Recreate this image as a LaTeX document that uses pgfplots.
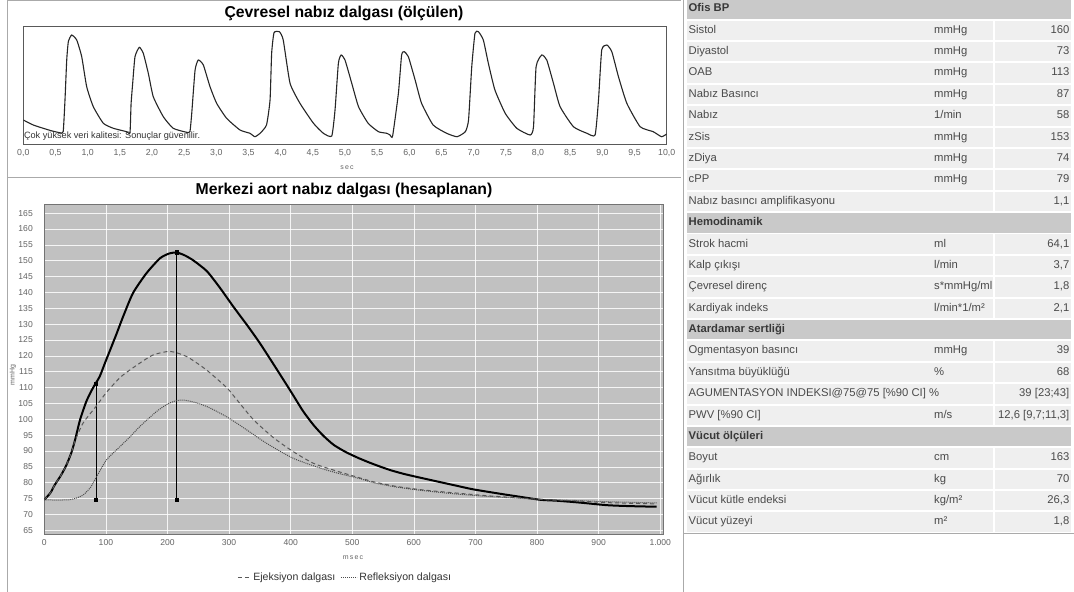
\documentclass[border=0pt]{standalone}
\usepackage{pgfplots}
\pgfplotsset{compat=1.18}
\usepackage{fontspec}
\setmainfont{Liberation Sans}
\definecolor{plotbg}{RGB}{193,193,193}
\definecolor{rowgray}{RGB}{239,239,239}
\definecolor{headgray}{RGB}{201,201,201}
\definecolor{tabtext}{RGB}{74,74,74}
\definecolor{framegray}{RGB}{170,170,170}
\definecolor{ticktext}{RGB}{100,100,100}

\tikzset{tabtxt/.style={font=\fontsize{11.3}{13}\selectfont, text=tabtext, inner sep=0pt, text height=8bp, text depth=2.3bp},
         headtxt/.style={font=\bfseries\fontsize{11.3}{13}\selectfont, text=black!78, inner sep=0pt, text height=8bp, text depth=2.3bp}}

\newcommand\trow[4]{%
  \pgfmathsetmacro\yc{-(9+21.38*#1)}%
  \begin{scope}[yshift=\yc bp]
    \fill[rowgray] (687bp,-9.7bp) rectangle (1071bp,9.7bp);
    \fill[white] (992.5bp,-9.7bp) rectangle (994.5bp,9.7bp);
    \node[anchor=west,tabtxt] at (688.5bp,0) {#2};
    \node[anchor=west,tabtxt] at (934bp,0) {#3};
    \node[anchor=east,tabtxt] at (1069.5bp,0) {#4};
  \end{scope}}
\newcommand\thead[2]{%
  \pgfmathsetmacro\yc{-(9+21.38*#1)}%
  \begin{scope}[yshift=\yc bp]
    \fill[headgray] (687bp,-9.7bp) rectangle (1071bp,9.7bp);
    \node[anchor=west,headtxt] at (688.5bp,0) {#2};
  \end{scope}}

\begin{document}
\begin{tikzpicture}
\path[use as bounding box] (0,0) rectangle (1074bp,-592bp);
\fill[white] (0,0) rectangle (1074bp,-592bp);

% frames
\draw[framegray, line width=0.8bp] (7bp,-0.6bp) -- (681bp,-0.6bp);
\draw[framegray, line width=0.8bp] (7bp,-0.6bp) -- (7bp,-592bp);
\draw[framegray, line width=1bp] (7bp,-177bp) -- (681bp,-177bp);
\draw[framegray, line width=1bp] (683.3bp,0) -- (683.3bp,-592bp);
\draw[framegray, line width=1bp] (683.3bp,-533.3bp) -- (1074bp,-533.3bp);

% titles
\node[font=\bfseries\fontsize{15.8}{18}\selectfont, text=black] at (344bp,-13bp) {Çevresel nabız dalgası (ölçülen)};
\node[font=\bfseries\fontsize{15.8}{18}\selectfont, text=black] at (344bp,-190bp) {Merkezi aort nabız dalgası (hesaplanan)};

% top axis
\begin{axis}[at={(23.3bp,-144bp)}, anchor=south west, scale only axis,
  width=643.4bp, height=117.3bp,
  xmin=0, xmax=10, ymin=0, ymax=117.3,
  xtick={0,0.5,...,10}, ytick=\empty,
  axis line style={draw=black!65, line width=0.7bp},
  major tick length=0pt,
  xticklabel style={font=\fontsize{8.8}{10}\selectfont, text=ticktext, yshift=-2bp,
     /pgf/number format/.cd, fixed, fixed zerofill, precision=1, use comma, assume math mode=true},
  clip=true]
\addplot[black!85, line width=1.1bp, smooth, tension=0.3] coordinates {
(0,24) (0.155,19) (0.31,15.7) (0.45,13) (0.57,11.3) (0.62,12.3) (0.648,44) (0.675,84) (0.70,102.3) (0.752,109) (0.83,104) (0.908,87.3) (0.985,57.3) (1.088,37.3) (1.244,20.7) (1.40,15.7) (1.607,12.3) (1.658,11.3)
(1.675,40) (1.70,60.7) (1.736,87.3) (1.803,96.7) (1.865,90.7) (1.943,70.7) (2.02,47.3) (2.176,27.3) (2.33,15.7) (2.54,11.7) (2.59,12.5)
(2.618,30.7) (2.67,74) (2.72,84) (2.798,79) (2.902,57.3) (3.005,40.7) (3.16,25.7) (3.368,14) (3.523,10.7) (3.60,7.3) (3.68,10.7) (3.78,19)
(3.835,44) (3.86,90.7) (3.897,111.3) (3.98,112.3) (4.04,104) (4.146,60.7) (4.30,40.7) (4.51,20.7) (4.664,10.7) (4.794,8)
(4.845,34) (4.897,80.7) (4.94,89) (5.0,84) (5.105,60.7) (5.21,37.3) (5.36,20.7) (5.52,12.3) (5.65,10.7) (5.70,9) (5.74,8)
(5.83,50.7) (5.88,89) (5.92,92.3) (5.985,87.3) (6.09,64) (6.19,40.7) (6.37,19) (6.58,10.7) (6.74,7.3) (6.87,12.3) (6.92,24)
(6.97,77.3) (7.02,110.7) (7.073,112.3) (7.15,104) (7.228,80.7) (7.33,54) (7.49,30.7) (7.67,15.7) (7.877,9)
(7.93,17.3) (7.97,77.3) (8.058,89) (8.136,84) (8.24,60.7) (8.343,37.3) (8.55,17.3) (8.76,10.7) (8.887,9)
(8.94,44) (8.99,94) (9.07,99) (9.147,92.3) (9.25,67.3) (9.38,40.7) (9.587,17.3) (9.79,12.3) (9.92,7.3) (10,10)};
\end{axis}
\node[anchor=west, font=\fontsize{9.2}{11}\selectfont, text=black!80, inner sep=0pt] at (23.8bp,-136bp) {Çok yüksek veri kalitesi: Sonuçlar güvenilir.};
\node[font=\fontsize{7}{8}\selectfont, text=ticktext] at (347bp,-168bp) {s\,e\,c};

% bottom axis
\begin{axis}[at={(44.3bp,-534bp)}, anchor=south west, scale only axis,
  width=619bp, height=330bp,
  xmin=0, xmax=1005, ymin=63.8, ymax=167.9,
  xtick={0,100,...,1000}, ytick={65,70,...,165},
  axis background/.style={fill=plotbg},
  grid=major, grid style={white, line width=0.6bp, opacity=0.85},
  axis line style={draw=black!55, line width=0.7bp},
  major tick length=0pt,
  tick label style={font=\fontsize{8.6}{10}\selectfont, text=ticktext},
  xticklabel style={yshift=-2bp, /pgf/number format/.cd, use comma, 1000 sep={.}, assume math mode=true},
  yticklabel style={xshift=-8bp, /pgf/number format/assume math mode=true},
  legend style={at={(0.486,-0.133)}, anchor=center, draw=none, fill=none,
     font=\fontsize{10.6}{12}\selectfont, text=black!80, legend columns=-1,
     /tikz/every even column/.append style={column sep=3bp}},
  legend cell align=left]
% solid central aortic wave
\addplot[black, line width=2bp, smooth, tension=0.4, forget plot] coordinates {
(0,74.6) (10,76.8) (17,79.3) (27,82.3) (36,85.6) (44,89.5) (50,93.5) (58,99.8) (68,105.5) (76,108.8) (83,111.2) (90,113.5) (100,118.5) (107,121.9) (117,126.8) (128,132.4) (144,139.8) (166,146.1) (188,150.8) (203,152.3) (215,152.6) (228,151.7) (242,150.1) (264,146.7) (285,141.5) (307,135.5) (330,129.5) (350,124) (372,117.4) (393,111) (404,107.6) (420,102.6) (437,98.2) (453,94.8) (470,91.9) (490,89.6) (512,87.6) (535,85.8) (561,84.0) (583,82.8) (605,81.8) (642,80.2) (670,79.0) (696,77.9) (740,76.5) (767,75.7) (805,74.6) (832,74.3) (870,73.7) (913,72.9) (950,72.6) (994,72.4)};
% vertical markers
\addplot[black, line width=0.8bp, mark=square*, mark size=1.8bp, forget plot] coordinates {(84,74.6) (84,111.2)};
\addplot[black, line width=0.8bp, mark=square*, mark size=1.8bp, forget plot] coordinates {(215,74.6) (215,152.6)};
% ejection wave
\addplot[black!65, line width=1bp, dash pattern=on 4bp off 3bp, smooth, tension=0.4,
  legend image code/.code={\draw[black!65, line width=1bp, dash pattern=on 4bp off 3bp] (0bp,0bp) -- (13bp,0bp);}] coordinates {
(0,74.6) (10,76.8) (17,79.3) (27,82.3) (36,85.6) (44,89.5) (50,93.2) (63,98.8) (85,104.3) (101,108.5) (125,113.5) (155,117.7) (177,120.3) (204,121.4) (231,119.8) (263,115.6) (296,110) (307,107.5) (339,100) (372,94.2) (404,89.8) (437,86.1) (469,84) (500,82.2) (534,80.3) (572,78.8) (615,77.7) (670,76.7) (724,75.8) (778,75.1) (816,74.6) (859,74.3) (913,73.7) (994,73.3)};
\addlegendentry{Ejeksiyon dalgası}
% reflection wave
\addplot[black!70, line width=1bp, dash pattern=on 1bp off 1bp, smooth, tension=0.4,
  legend image code/.code={\draw[black!70, line width=1bp, dash pattern=on 1bp off 1bp] (0bp,0bp) -- (16bp,0bp);}] coordinates {
(0,74.6) (20,74.5) (40,74.6) (50,75) (63,76.1) (75,78.5) (85,81.9) (101,87.2) (123,91.4) (140,94.6) (155,97.7) (182,102.4) (200,104.8) (215,105.9) (228,106) (245,105.3) (264,104) (296,100.8) (329,96.6) (361,92.4) (404,87.7) (448,84.6) (480,82.8) (512,81.3) (534,80) (572,78.6) (615,77.5) (670,76.4) (724,75.6) (778,75) (816,74.6) (859,74.4) (913,74) (994,73.6)};
\addlegendentry{Refleksiyon dalgası}
\end{axis}
\node[font=\fontsize{7}{8}\selectfont, text=ticktext, rotate=90] at (13bp,-375bp) {mmHg};
\node[font=\fontsize{7}{8}\selectfont, text=ticktext] at (353bp,-558bp) {m\,s\,e\,c};

% table
\thead{0}{Ofis BP}
\trow{1}{Sistol}{mmHg}{160}
\trow{2}{Diyastol}{mmHg}{73}
\trow{3}{OAB}{mmHg}{113}
\trow{4}{Nabız Basıncı}{mmHg}{87}
\trow{5}{Nabız}{1/min}{58}
\trow{6}{zSis}{mmHg}{153}
\trow{7}{zDiya}{mmHg}{74}
\trow{8}{cPP}{mmHg}{79}
\trow{9}{Nabız basıncı amplifikasyonu}{}{1,1}
\thead{10}{Hemodinamik}
\trow{11}{Strok hacmi}{ml}{64,1}
\trow{12}{Kalp çıkışı}{l/min}{3,7}
\trow{13}{Çevresel direnç}{s*mmHg/ml}{1,8}
\trow{14}{Kardiyak indeks}{l/min*1/m²}{2,1}
\thead{15}{Atardamar sertliği}
\trow{16}{Ogmentasyon basıncı}{mmHg}{39}
\trow{17}{Yansıtma büyüklüğü}{\%}{68}
\trow{18}{AGUMENTASYON INDEKSI@75@75 [\%90 CI] \%}{}{39 [23;43]}
\trow{19}{PWV [\%90 CI]}{m/s}{12,6 [9,7;11,3]}
\thead{20}{Vücut ölçüleri}
\trow{21}{Boyut}{cm}{163}
\trow{22}{Ağırlık}{kg}{70}
\trow{23}{Vücut kütle endeksi}{kg/m²}{26,3}
\trow{24}{Vücut yüzeyi}{m²}{1,8}
\end{tikzpicture}
\end{document}
